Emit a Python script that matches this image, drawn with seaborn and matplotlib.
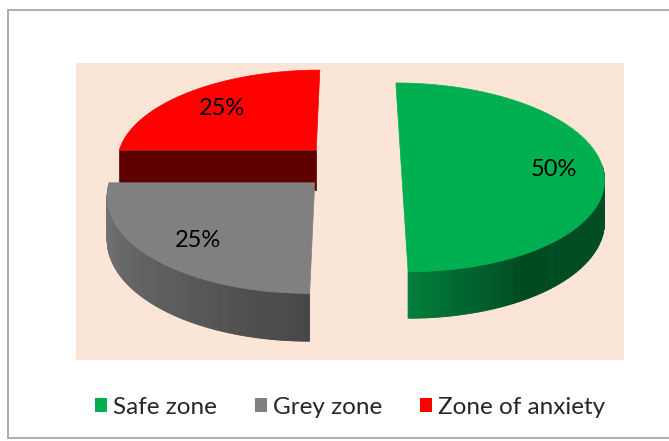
import numpy as np
import matplotlib.pyplot as plt
import seaborn as sns
from matplotlib.patches import Polygon, Rectangle
from matplotlib.collections import PolyCollection

# data
categories = ['Safe zone', 'Grey zone', 'Zone of anxiety']
shares = [50, 25, 25]
pct_labels = ['50%', '25%', '25%']

sns.set_theme(style='white')
plt.rcParams['font.family'] = ['Lato', 'DejaVu Sans']

colors = sns.color_palette(['#00B050', '#808080', '#FF0000'])
# wall shading stops (t along the visible wall, brightness factor)
wall_shade = [[(0.0, 0.72), (0.35, 0.42), (1.0, 0.44)],
              [(0.0, 0.95), (1.0, 0.55)],
              [(0.0, 0.36), (1.0, 0.36)]]
flat_shade = [0.40, 0.55, 0.37]
explode = 0.25

# pseudo 3d projection (pixel space)
CX, CY = 351, 166
R, B, H, K = 201, 93, 41, 0.12


def proj(X, Y, z):
    s = 1.0 / (1.0 + K * Y)
    return CX + R * X * s, CY - B * Y * s + H * z * s


def shade(stops, t):
    ts = [a for a, _ in stops]
    vs = [b for _, b in stops]
    return float(np.interp(t, ts, vs))


fig = plt.figure(figsize=(6.69, 4.41), dpi=100)
ax = fig.add_axes([0, 0, 1, 1])
ax.set_xlim(0, 669)
ax.set_ylim(441, 0)
ax.axis('off')

ax.add_patch(Rectangle((8, 10), 680, 428, facecolor='white', edgecolor='#a6a6a6', lw=1.3))
ax.add_patch(Rectangle((76, 63), 548, 297, facecolor='#FBE5D6', edgecolor='none'))

# slice angles: start at 90 deg and go clockwise
total = sum(shares)
slices = []
start = 90.0
for i, v in enumerate(shares):
    span = 360.0 * v / total
    a2 = start
    a1 = start - span
    start = a1
    slices.append((i, a1, a2))

# back to front
order = sorted(slices, key=lambda s: -np.sin(np.radians((s[1] + s[2]) / 2)))

for i, a1, a2 in order:
    base = np.array(colors[i])
    mid = np.radians((a1 + a2) / 2)
    ox, oy = explode * np.cos(mid), explode * np.sin(mid)
    t = np.radians(np.linspace(a1, a2, 181))

    # flat radial faces facing the viewer
    for ang, nrm in [(a1, a1 - 90), (a2, a2 + 90)]:
        if np.sin(np.radians(nrm)) < -0.05:
            ra = np.radians(ang)
            quad = [proj(ox, oy, 0), proj(ox + np.cos(ra), oy + np.sin(ra), 0),
                    proj(ox + np.cos(ra), oy + np.sin(ra), 1), proj(ox, oy, 1)]
            ax.add_patch(Polygon(quad, closed=True, facecolor=base * flat_shade[i],
                                 edgecolor=base * flat_shade[i], lw=0.5))

    # curved outer wall
    front = t[np.sin(t) < 1e-9]
    if len(front) > 1:
        quads, cols = [], []
        for j in range(len(front) - 1):
            p, q = front[j], front[j + 1]
            quads.append([proj(ox + np.cos(p), oy + np.sin(p), 0),
                          proj(ox + np.cos(q), oy + np.sin(q), 0),
                          proj(ox + np.cos(q), oy + np.sin(q), 1),
                          proj(ox + np.cos(p), oy + np.sin(p), 1)])
            tt = (j + 0.5) / (len(front) - 1)
            cols.append(np.clip(base * shade(wall_shade[i], tt), 0, 1))
        ax.add_collection(PolyCollection(quads, facecolors=cols, edgecolors=cols, linewidths=0.6))

    # top face
    top = [proj(ox, oy, 0)] + [proj(ox + np.cos(a), oy + np.sin(a), 0) for a in t]
    ax.add_patch(Polygon(top, closed=True, facecolor=base, edgecolor=base, lw=0.5))

    lx, ly = proj(ox + 0.75 * np.cos(mid), oy + 0.75 * np.sin(mid), 0)
    ax.text(lx + 2, ly + 3, pct_labels[i], ha='center', va='center', fontsize=17, color='black')

handles = [Rectangle((0, 0), 1, 1, facecolor=colors[i], edgecolor='none') for i in range(len(categories))]
fig.legend(handles, categories, loc='center', bbox_to_anchor=(350 / 669, 1 - 407 / 441),
           ncol=3, frameon=False, fontsize=17.5, handlelength=0.5, handleheight=0.5,
           handletextpad=0.25, columnspacing=1.55)

fig.savefig('out.png', dpi=100)
